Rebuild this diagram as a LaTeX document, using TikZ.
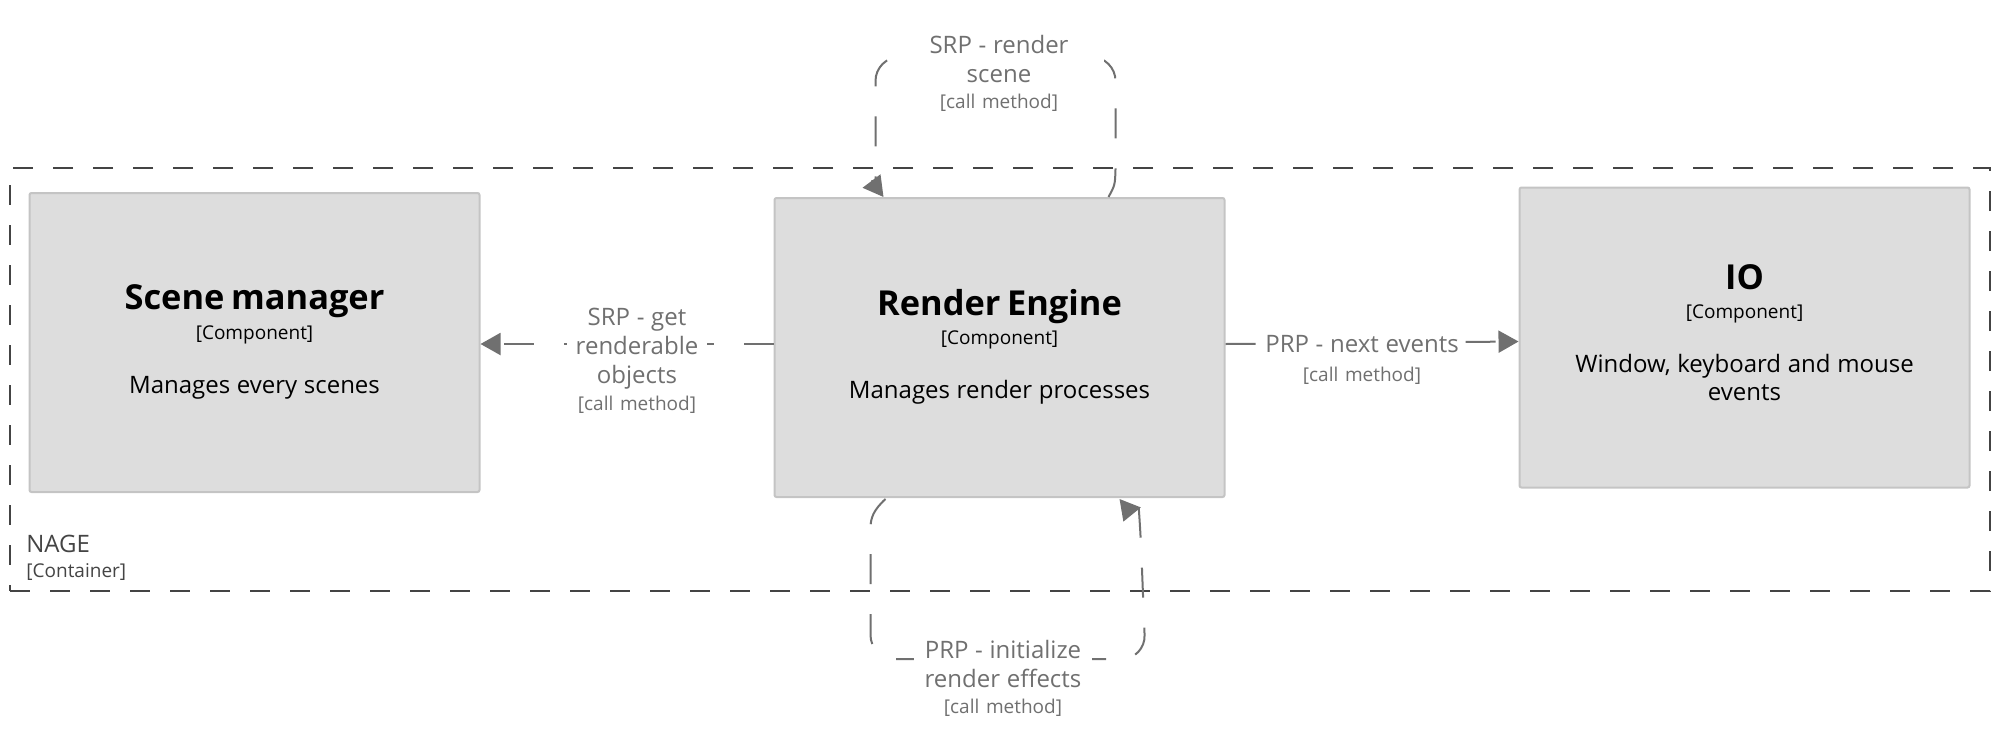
\documentclass[tikz,border=0pt]{standalone}
\usepackage{fontspec}
\setmainfont{Open Sans}
\usetikzlibrary{arrows.meta,calc}
\definecolor{relgray}{HTML}{707070}
\definecolor{boxfill}{HTML}{DDDDDD}
\definecolor{boxline}{HTML}{C4C4C4}
\definecolor{contline}{HTML}{444444}
\begin{document}
\begin{tikzpicture}[x=0.5pt,y=-0.5pt,
  compbox/.style={draw=boxline, fill=boxfill, line width=1pt, rounded corners=1pt,
    minimum width=225pt, minimum height=149.5pt, inner sep=0pt},
  boxtext/.style={anchor=base, text width=215pt, align=center, inner sep=0pt, text=black},
  rel/.style={draw=relgray, line width=1pt, dash pattern=on 15pt off 15pt,
    -{Triangle[length=10pt,width=11pt]}},
  rlabel/.style={anchor=base, align=center, inner xsep=0pt, inner ysep=2pt, fill=white, text=relgray},
  contbox/.style={draw=contline, line width=1pt, dash pattern=on 10pt off 10pt,
    minimum width=990pt, minimum height=211.5pt, inner sep=0pt},
  conttext/.style={anchor=base west, inner sep=0pt, text=contline}
]
\useasboundingbox (0,0) rectangle (2000,750);

% container
\node[contbox] (nage) at (1000,379.5) {};
\node[conttext, font=\fontsize{12}{14}\selectfont] (nage-name) at (26,552) {NAGE};
\node[conttext, font=\fontsize{9.5}{11}\selectfont] (nage-type) at (26,577) {[Container]};

% components
\node[compbox] (sm) at (254.5,342.5) {};
\node[compbox] (re) at (999.5,347.5) {};
\node[compbox, minimum height=150pt] (io) at (1744.5,337.5) {};

\node[boxtext] (sm-text) at (254.5,309) {%
  {\fontsize{17.2}{20}\bfseries Scene manager\par}%
  {\fontsize{9.5}{15}\selectfont [Component]\par}%
  \vskip13pt
  {\fontsize{12}{14}\selectfont Manages every scenes\par}};
\node[boxtext] (re-text) at (999.5,315) {%
  {\fontsize{17.2}{20}\bfseries Render Engine\par}%
  {\fontsize{9.5}{14.5}\selectfont [Component]\par}%
  \vskip13pt
  {\fontsize{12}{14}\selectfont Manages render processes\par}};
\node[boxtext] (io-text) at (1744.5,289) {%
  {\fontsize{17.2}{20}\bfseries IO\par}%
  {\fontsize{9.5}{14.5}\selectfont [Component]\par}%
  \vskip13pt
  {\fontsize{12}{14}\selectfont Window, keyboard and mouse\\events\par}};

% connectors
\draw[rel] ([yshift=1.75pt]re.west) -- ([yshift=-0.75pt]sm.east);
\draw[rel] ([yshift=1.75pt]re.east) -- ([yshift=-2pt]io.west);

\draw[rel] ($(re.north)+(109,0)$) .. controls ($(re.north)+(115.5,-12)$) .. ($(re.north)+(116,-28)$)
  [rounded corners=12] -- ($(re.north)+(116,-140)$) -- ($(re.north)+(-124,-140)$) -- ($(re.north)+(-124,-33)$)
  [sharp corners] .. controls ($(re.north)+(-124,-18)$) and ($(re.north)+(-128,-16)$) .. ($(re.north)+(-116,0)$);

\draw[rel] ($(re.south)+(-114,1)$) .. controls ($(re.south)+(-126,12)$) and ($(re.south)+(-129,20)$) .. ($(re.south)+(-129,30)$)
  [rounded corners=12] -- ($(re.south)+(-129,161)$) -- ($(re.south)+(146,161)$) -- ($(re.south)+(141,33)$)
  [sharp corners] .. controls ($(re.south)+(140,20)$) and ($(re.south)+(133,17)$) .. ($(re.south)+(120,1)$);

% relationship labels
\node[rlabel, text width=70pt] (l-get) at (637,325) {%
  {\fontsize{12}{14.5}\selectfont SRP - get\\renderable\\objects\par}%
  {\fontsize{9.5}{13.5}\selectfont [call method]\par}};
\node[rlabel, text width=100pt] (l-next) at (1362,352) {%
  {\fontsize{12}{14.5}\selectfont PRP - next events\par}%
  {\fontsize{9.5}{14.5}\selectfont [call method]\par}};
\node[rlabel, text width=105pt] (l-render) at (999,53) {%
  {\fontsize{12}{14.5}\selectfont SRP - render\\scene\par}%
  {\fontsize{9.5}{13}\selectfont [call method]\par}};
\node[rlabel, text width=89pt] (l-init) at (1003,658) {%
  {\fontsize{12}{14.5}\selectfont PRP - initialize\\render effects\par}%
  {\fontsize{9.5}{13}\selectfont [call method]\par}};
\end{tikzpicture}
\end{document}
